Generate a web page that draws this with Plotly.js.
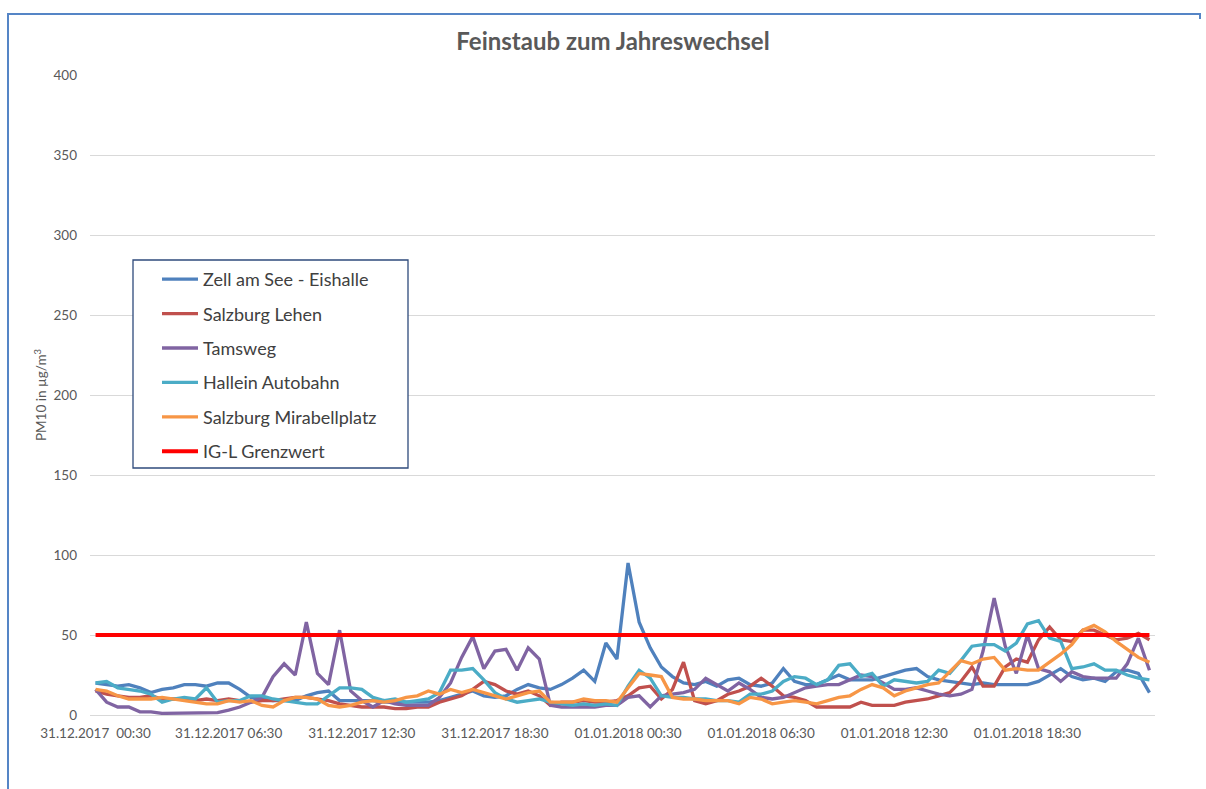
<!DOCTYPE html>
<html>
<head>
<meta charset="utf-8">
<script src="https://cdn.plot.ly/plotly-3.0.1.min.js"></script>
<style>
  html, body { margin: 0; padding: 0; background: #fff; overflow: hidden; }
  #chart { position: absolute; left: 0; top: 0; width: 1206px; height: 789px; }
  #frame { position: absolute; left: 7px; top: 13px; width: 1192px; height: 820px;
           border-left: 2px solid #5585c6; border-top: 2px solid #5585c6; pointer-events: none; }
  #stub { position: absolute; left: 1199px; top: 13px; width: 2px; height: 6px; background: #5585c6; }
</style>
</head>
<body>
<div id="chart"></div>
<div id="frame"></div>
<div id="stub"></div>
<script>
// Half-hourly PM10 readings (µg/m³), 31.12.2017 00:30 – 02.01.2018 00:00
const zellAmSee = [20,19,18,19,17,14,16,17,19,19, 18,20,20,16,11,10,9,9,9,12,
  14,15,9,9,9,9,8,8,8,8, 8,9,11,13,15,12,11,12,16,19,
  17,16,19,23,28,21,45,35,95,58, 42,30,24,20,19,21,18,22,23,19,
  18,20,29,21,19,19,22,25,22,22, 22,24,26,28,29,24,22,21,20,19,
  20,19,19,19,19,21,25,29,24,22, 23,21,27,28,26,14];

const salzburgLehen = [15,13,12,11,11,12,10,10,10,9, 10,9,10,9,8,9,9,10,11,11,
  10,9,7,6,5,5,5,4,4,5, 5,8,10,12,16,21,19,15,13,15,
  12,6,8,8,9,8,8,9,12,17, 18,10,16,33,9,7,9,13,15,18,
  23,18,12,11,9,5,5,5,5,8, 6,6,6,8,9,10,12,14,21,30,
  18,18,30,35,33,47,55,47,46,53, 53,50,47,48,51,47];

const tamsweg = [16,8,5,5,2,2,1,1,1,1, 1,1.5,3,5,8,11,24,32,25,58,
  26,19,53,15,9,5,9,7,6,6, 6,11,20,36,49,29,40,41,28,42,
  35,6,5,5,5,5,6,6,11,12, 5,12,13,14,16,23,19,15,20,16,
  11,10,11,14,17,18,19,19,22,25, 24,20,16,16,17,15,13,12,13,16,
  40,73,43,26,50,29,27,21,27,24, 23,23,23,32,48,28];

const halleinAutobahn = [20,21,17,16,15,13,8,10,11,10, 17,8,9,9,12,12,10,9,8,7,
  7,12,17,17,16,11,9,10,8,9, 10,14,28,28,29,22,14,10,8,9,
  10,8,7,6,7,6,7,6,18,28, 23,12,11,11,10,10,9,9,8,13,
  13,15,21,24,23,19,22,31,32,24, 26,18,22,21,20,21,28,26,34,43,
  44,44,40,45,57,59,48,46,29,30, 32,28,28,25,23,22];

const mirabellplatz = [16,15,12,10,10,10,11,10,9,8, 7,7,9,8,9,6,5,9,11,11,
  10,6,5,6,8,9,8,9,11,12, 15,13,16,14,16,14,12,10,12,14,
  15,8,8,8,10,9,9,8,17,26, 25,24,11,10,10,9,9,9,7,11,
  10,7,8,9,8,7,9,11,12,16, 19,17,12,15,17,19,20,27,34,32,
  35,36,28,29,28,28,33,38,44,53, 56,52,46,41,36,33];

// IG-L daily limit value for PM10
const grenzwert = 50;

const seriesNames = ['Zell am See - Eishalle', 'Salzburg Lehen', 'Tamsweg',
  'Hallein Autobahn', 'Salzburg Mirabellplatz', 'IG-L Grenzwert'];

const tickValues = ['31.12.2017 00:30', '31.12.2017 06:30', '31.12.2017 12:30', '31.12.2017 18:30',
  '01.01.2018 00:30', '01.01.2018 06:30', '01.01.2018 12:30', '01.01.2018 18:30'];
const tickLabels = ['31.12.2017  00:30', '31.12.2017 06:30', '31.12.2017 12:30', '31.12.2017 18:30',
  '01.01.2018 00:30', '01.01.2018 06:30', '01.01.2018 12:30', '01.01.2018 18:30'];

// category labels: one per half hour
function pad(n) { return n < 10 ? '0' + n : String(n); }
const times = [];
for (let i = 0; i < zellAmSee.length; i++) {
  const m = 30 + 30 * i;
  const day = m < 1440 ? '31.12.2017' : (m < 2880 ? '01.01.2018' : '02.01.2018');
  const mm = m % 1440;
  times.push(day + ' ' + pad(Math.floor(mm / 60)) + ':' + pad(mm % 60));
}

const colors = ['#4F81BD', '#C0504D', '#8064A2', '#4BACC6', '#F79646', '#FF0000'];
const values = [zellAmSee, salzburgLehen, tamsweg, halleinAutobahn, mirabellplatz];

const traces = values.map((v, k) => ({
  type: 'scatter', mode: 'lines', x: times, y: v, name: seriesNames[k],
  legendgroup: 'g' + k,
  line: { color: colors[k], width: 3.3, shape: 'linear' },
  hoverinfo: 'skip'
}));
traces.push({
  type: 'scatter', mode: 'lines',
  x: [times[0], times[times.length - 1]], y: [grenzwert, grenzwert],
  name: seriesNames[5], legendgroup: 'g5',
  line: { color: colors[5], width: 4 }, hoverinfo: 'skip'
});

const FONT = 'Lato, "Open Sans", sans-serif';
const L = 90, R = 51, T = 75, B = 74, W = 1206, H = 789;
const pw = W - L - R, ph = H - T - B;
const px = x => (x - L) / pw;
const py = y => (H - B - y) / ph;

const layout = {
  width: W, height: H,
  margin: { l: L, r: R, t: T, b: B, pad: 0 },
  paper_bgcolor: 'rgba(0,0,0,0)', plot_bgcolor: '#fff',
  font: { family: FONT, color: '#595959', size: 13 },
  title: {
    text: 'Feinstaub zum Jahreswechsel',
    font: { family: FONT, size: 24, color: '#595959', weight: 'bold' },
    x: 613 / W, xref: 'container', xanchor: 'center',
    y: 1 - 42 / H, yref: 'container', yanchor: 'middle'
  },
  xaxis: {
    type: 'category', categoryorder: 'array', categoryarray: times,
    range: [-0.5, times.length - 0.5],
    tickvals: tickValues, ticktext: tickLabels, tickangle: 0,
    showgrid: false, zeroline: false,
    showline: true, linecolor: '#d9d9d9', linewidth: 1,
    ticks: '', ticklabelstandoff: 6,
    tickfont: { size: 13.5, color: '#595959' },
    fixedrange: true
  },
  yaxis: {
    range: [0, 400], dtick: 50, tick0: 0,
    showgrid: true, gridcolor: '#d9d9d9', gridwidth: 1,
    zeroline: false, showline: false, ticks: '',
    ticklabelstandoff: 12,
    tickfont: { size: 13.5, color: '#595959' },
    title: { text: 'PM10 in µg/m<sup>3</sup>', font: { size: 13.5, color: '#595959' }, standoff: 3 },
    fixedrange: true
  },
  showlegend: true,
  legend: {
    x: px(157), y: py(261), xanchor: 'left', yanchor: 'top',
    bgcolor: 'rgba(0,0,0,0)', borderwidth: 0,
    font: { family: FONT, size: 18, color: '#404040' },
    tracegroupgap: 8, itemwidth: 36
  },
  shapes: [{
    type: 'rect', xref: 'paper', yref: 'paper', layer: 'above',
    x0: px(133), x1: px(408), y0: py(468), y1: py(260),
    fillcolor: '#ffffff', line: { color: '#2F4B7C', width: 1.3 }
  }]
};

Plotly.newPlot('chart', traces, layout, { staticPlot: true, displayModeBar: false });
</script>
</body>
</html>
